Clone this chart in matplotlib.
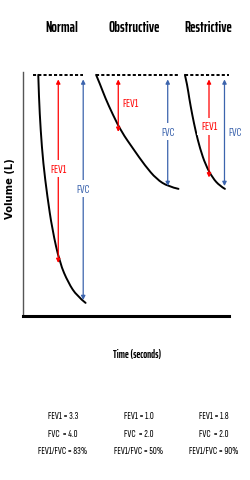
import matplotlib
matplotlib.use('Agg')
import matplotlib.pyplot as plt
from matplotlib.path import Path
from matplotlib.patches import PathPatch

W, H = 251, 481

patterns = ['Normal', 'Obstructive', 'Restrictive']
fev1 = [3.3, 1.0, 1.8]
fvc = [4.0, 2.0, 2.0]
ratio = [83, 50, 90]

# spirogram traces: time (s) from start of the blow, volume out (L)
curve_t = [
    [0, 0.03, 0.11, 0.23, 0.42, 0.65, 1.0, 1.4, 1.8, 2.2],
    [0, 0.19, 0.42, 0.78, 1.18, 1.73, 2.27, 2.81, 3.36, 3.83],
    [0, 0.11, 0.20, 0.34, 0.50, 0.70, 0.96, 1.29, 1.63, 1.86],
]
curve_v = [
    [0, 0.39, 0.97, 1.55, 2.13, 2.71, 3.30, 3.65, 3.88, 4.0],
    [0, 0.17, 0.40, 0.70, 1.00, 1.30, 1.59, 1.83, 1.96, 2.0],
    [0, 0.18, 0.41, 0.70, 0.99, 1.29, 1.58, 1.81, 1.95, 2.0],
]

# layout only
start = [0.71, 3.40, 7.53]
dash_span = [(-0.24, 2.08), (0.0, 3.81), (0.0, 2.05)]
fev1_x = [0.93, 1.03, 1.12]
fvc_x = [2.09, 3.33, 1.84]
fev1_side = [False, True, False]
fvc_side = [False, False, True]
title_x = [62, 134, 208]
stats_x = [63, 139, 214]

RED = '#ff0000'
BLUE = '#3c64ad'
NARROW = ['Sofia Sans Extra Condensed', 'Archivo Narrow', 'DejaVu Sans']
NARROW_BOLD = ['Saira ExtraCondensed', 'Archivo Narrow', 'DejaVu Sans']


def fx(px):
    return px / W


def fy(py):
    return 1 - py / H


def smooth(xs, ys):
    # quadratic bezier through the midpoints, read points used as controls
    pts = list(zip(xs, ys))
    verts = [pts[0]]
    codes = [Path.MOVETO]
    n = len(pts)
    for k in range(1, n - 1):
        if k < n - 2:
            end = ((pts[k][0] + pts[k + 1][0]) / 2, (pts[k][1] + pts[k + 1][1]) / 2)
        else:
            end = pts[-1]
        verts += [pts[k], end]
        codes += [Path.CURVE3, Path.CURVE3]
    return Path(verts, codes)


fig = plt.figure(figsize=(W / 100, H / 100), dpi=100)
ax = fig.add_axes([fx(23), fy(317), fx(229) - fx(23), fy(73) - fy(317)])
ax.set_xlim(0, 9.58)
ax.set_ylim(4.23, -0.05)
for s in ['top', 'right']:
    ax.spines[s].set_visible(False)
ax.spines['left'].set_color('#555555')
ax.spines['left'].set_linewidth(1.0)
ax.spines['bottom'].set_linewidth(2.2)
ax.set_xticks([])
ax.set_yticks([])


def arrow(x, v0, v1, color):
    ax.annotate('', xy=(x, v1), xytext=(x, v0),
                arrowprops=dict(arrowstyle='<|-|>', color=color, lw=0.9,
                                mutation_scale=6, shrinkA=0, shrinkB=0))


def label(x, v, txt, color, side):
    if side:
        ax.text(x + 0.2, v, txt, color=color, fontsize=9, family=NARROW,
                ha='left', va='center')
    else:
        ax.text(x, v, txt, color=color, fontsize=9, family=NARROW,
                ha='center', va='center',
                bbox=dict(facecolor='white', edgecolor='none', pad=2.5))


for i in range(3):
    t = [start[i] + a for a in curve_t[i]]
    ax.add_patch(PathPatch(smooth(t, curve_v[i]), fill=False, edgecolor='black',
                           lw=1.4, capstyle='round'))
    d0, d1 = dash_span[i]
    ax.plot([start[i] + d0, start[i] + d1], [0, 0], color='black', lw=1.4,
            linestyle=(0, (1.6, 1.1)))

    x1 = start[i] + fev1_x[i]
    arrow(x1, 0.08, fev1[i], RED)
    label(x1, fev1[i] / 2, 'FEV1', RED, fev1_side[i])

    x2 = start[i] + fvc_x[i]
    arrow(x2, 0.08, fvc[i] - 0.05, BLUE)
    label(x2, fvc[i] / 2, 'FVC', BLUE, fvc_side[i])

    fig.text(fx(title_x[i]), fy(28), patterns[i], fontsize=10.5, fontweight='bold',
             family=NARROW_BOLD, ha='center', va='center')

    lines = ['FEV1 = %.1f' % fev1[i], 'FVC  = %.1f' % fvc[i],
             'FEV1/FVC = %d%%' % ratio[i]]
    for j, ln in enumerate(lines):
        fig.text(fx(stats_x[i]), fy(417 + 17.5 * j), ln, fontsize=7.8,
                 family=NARROW, ha='center', va='center')

fig.text(fx(10), fy(189), 'Volume (L)', rotation=90, fontsize=7.2,
         fontweight='bold', ha='center', va='center')
fig.text(fx(137), fy(355), 'Time (seconds)', fontsize=7.5, fontweight='bold',
         family=NARROW_BOLD, ha='center', va='center')

fig.savefig('out.png', dpi=100)
